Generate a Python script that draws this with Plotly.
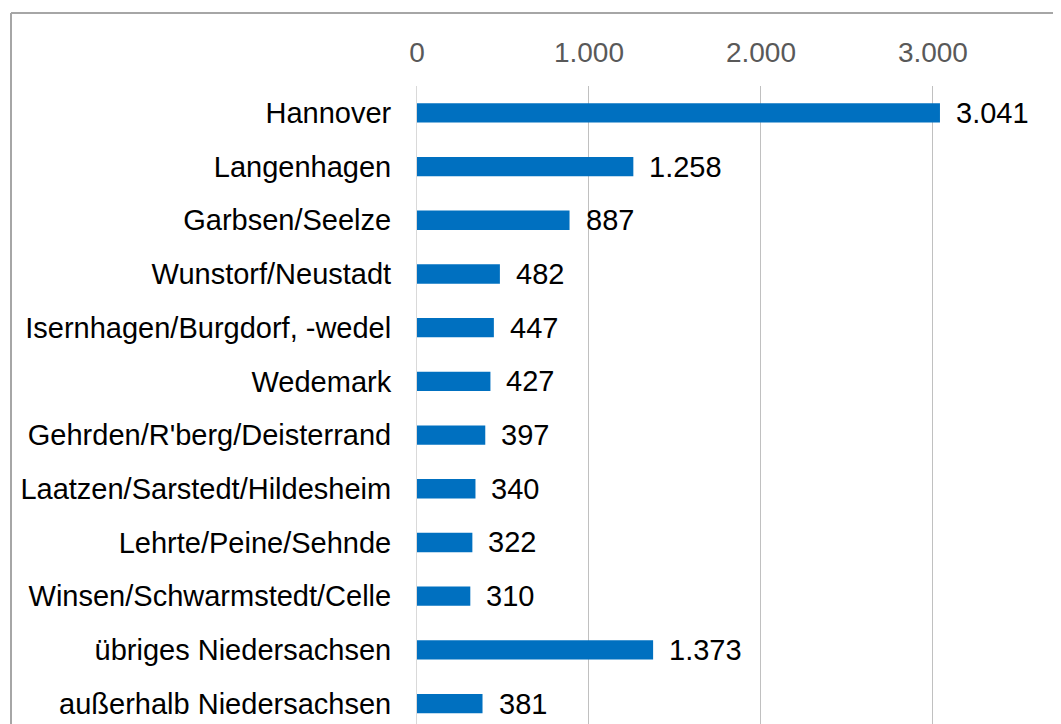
import plotly.graph_objects as go

categories = [
    "Hannover",
    "Langenhagen",
    "Garbsen/Seelze",
    "Wunstorf/Neustadt",
    "Isernhagen/Burgdorf, -wedel",
    "Wedemark",
    "Gehrden/R'berg/Deisterrand",
    "Laatzen/Sarstedt/Hildesheim",
    "Lehrte/Peine/Sehnde",
    "Winsen/Schwarmstedt/Celle",
    "übriges Niedersachsen",
    "außerhalb Niedersachsen",
]
values = [3041, 1258, 887, 482, 447, 427, 397, 340, 322, 310, 1373, 381]
tick_vals = [0, 1000, 2000, 3000]
tick_text = ["0", "1.000", "2.000", "3.000"]

FONT = "Liberation Sans, Arial, sans-serif"
BLUE = "#0070C0"
FS = 29

# page body has an 8px margin, so the figure is shifted by 8px
OFF = 8
W, H = 1061 - OFF, 724 - OFF
L, T = 417 - OFF, 86 - OFF

fig = go.Figure()
fig.add_trace(go.Bar(
    x=values,
    y=categories,
    orientation="h",
    width=0.36,
    marker=dict(color=BLUE, line=dict(width=0)),
    hoverinfo="x+y",
))

def de(v):
    return f"{v:,}".replace(",", ".")

for c, v in zip(categories, values):
    fig.add_annotation(
        x=v, y=c, xref="x", yref="y",
        text=de(v), showarrow=False,
        xanchor="left", yanchor="middle", xshift=14,
        font=dict(family=FONT, size=FS, color="#000000"),
    )

# outer chart border (top and left visible)
px_w = W - L
px_h = H - T
x_b = (11 - OFF - L) / px_w
y_b = 1 + (T - (13 - OFF)) / px_h
fig.add_shape(type="line", xref="paper", yref="paper",
              x0=x_b, x1=1.05, y0=y_b, y1=y_b,
              line=dict(color="#A6A6A6", width=2))
fig.add_shape(type="line", xref="paper", yref="paper",
              x0=x_b, x1=x_b, y0=-0.05, y1=y_b,
              line=dict(color="#A6A6A6", width=2))

fig.update_layout(
    width=W, height=H,
    margin=dict(l=L, r=0, t=T, b=0, pad=0),
    paper_bgcolor="white", plot_bgcolor="white",
    showlegend=False,
    separators=",.",
    font=dict(family=FONT, size=FS, color="#000000"),
)
fig.update_xaxes(
    side="top",
    range=[0, (W - L) / 171.97 * 1000],
    tickvals=tick_vals, ticktext=tick_text,
    tickfont=dict(family=FONT, size=FS - 1, color="#595959"),
    showgrid=True, gridcolor="#C0C0C0", gridwidth=1,
    zeroline=False,
    showline=False,
    ticks="outside", ticklen=12, tickcolor="rgba(0,0,0,0)",
)
fig.update_yaxes(
    type="category",
    categoryorder="array", categoryarray=categories,
    range=[11.38, -0.5],
    tickfont=dict(family=FONT, size=FS, color="#000000"),
    showgrid=False, zeroline=False,
    showline=True, linecolor="#D9D9D9", linewidth=1,
    ticks="outside", ticklen=19, tickcolor="rgba(0,0,0,0)",
)

fig.write_html("out.html")
